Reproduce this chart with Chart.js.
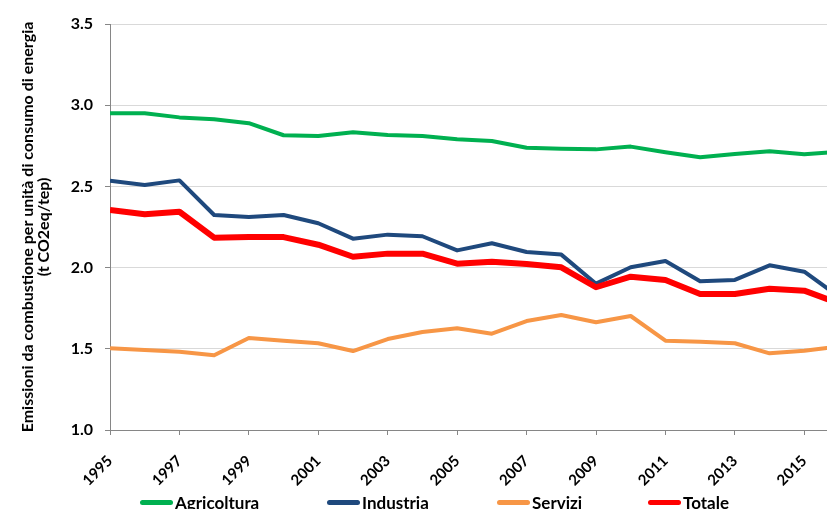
<!DOCTYPE html>
<html>
<head>
<meta charset="utf-8">
<script src="https://cdn.jsdelivr.net/npm/chart.js@4/dist/chart.umd.min.js"></script>
<style>
  html, body { margin: 0; padding: 0; background: #fff; overflow: hidden; width: 827px; height: 509px; }
  #wrap { position: absolute; left: 0; top: 0; width: 845px; height: 520px; }
  #legend { position: absolute; left: 0; top: 490px; width: 827px; height: 30px; font: bold 17px Lato, sans-serif; color: #000; z-index: 2; }
  .item { position: absolute; top: 0; display: flex; align-items: center; height: 24px; white-space: nowrap; }
  .swatch { width: 33px; height: 5px; border-radius: 3px; margin-right: 2px; }
</style>
</head>
<body>
<div id="wrap"><canvas id="myChart"></canvas></div>
<div id="legend"></div>
<script>
// data
var years = [1995, 1996, 1997, 1998, 1999, 2000, 2001, 2002, 2003, 2004, 2005,
             2006, 2007, 2008, 2009, 2010, 2011, 2012, 2013, 2014, 2015, 2016];
var agricoltura = [2.95, 2.95, 2.925, 2.913, 2.889, 2.815, 2.81, 2.833, 2.817, 2.81, 2.79,
                   2.78, 2.738, 2.732, 2.728, 2.745, 2.71, 2.679, 2.70, 2.716, 2.698, 2.713];
var industria = [2.535, 2.509, 2.537, 2.324, 2.312, 2.324, 2.273, 2.178, 2.203, 2.193, 2.106,
                 2.15, 2.096, 2.08, 1.901, 2.002, 2.041, 1.916, 1.924, 2.014, 1.975, 1.82];
var servizi = [1.503, 1.493, 1.482, 1.46, 1.567, 1.55, 1.534, 1.486, 1.56, 1.603, 1.626,
               1.593, 1.671, 1.708, 1.663, 1.702, 1.55, 1.544, 1.534, 1.472, 1.488, 1.515];
var totale = [2.355, 2.328, 2.344, 2.184, 2.188, 2.188, 2.141, 2.067, 2.086, 2.086, 2.024,
              2.036, 2.022, 2.002, 1.879, 1.944, 1.924, 1.837, 1.837, 1.87, 1.858, 1.78];
var xTickYears = [1995, 1997, 1999, 2001, 2003, 2005, 2007, 2009, 2011, 2013, 2015];
var yTitle = ['Emissioni da combustione per unità di consumo di energia', '(t CO2eq/tep)'];

var seriesNames = ['Agricoltura', 'Industria', 'Servizi', 'Totale'];
var seriesValues = [agricoltura, industria, servizi, totale];
var seriesColors = ['#00B050', '#1F497D', '#F79646', '#FF0000'];
var seriesWidths = [4, 4, 4, 6];
var seriesOrder = [3, 2, 1, 0];
var legendLeft = [140, 327, 497, 648];

function toPoints(vals) {
    return vals.map(function(v, i) { return { x: years[i], y: v }; });
}

var datasets = seriesNames.map(function(name, i) {
    return {
        label: name,
        data: toPoints(seriesValues[i]),
        borderColor: seriesColors[i],
        backgroundColor: seriesColors[i],
        borderWidth: seriesWidths[i],
        pointRadius: 0,
        tension: 0,
        borderJoinStyle: 'round',
        order: seriesOrder[i]
    };
});

var axisGray = '#868686';

var ctx = document.getElementById('myChart').getContext('2d');
var myChart = new Chart(ctx, {
    type: 'line',
    data: { datasets: datasets },
    options: {
        responsive: true,
        maintainAspectRatio: false,
        animation: false,
        layout: { padding: { top: 24, right: 6, left: 0, bottom: 0 } },
        plugins: {
            legend: { display: false },
            tooltip: { enabled: false }
        },
        scales: {
            x: {
                type: 'linear',
                min: 1995,
                max: 2016,
                afterBuildTicks: function(scale) {
                    scale.ticks = xTickYears.map(function(v) { return { value: v }; });
                },
                // canvas is 520 high, plot area has to end at y=430
                afterFit: function(scale) { scale.height = 90; },
                border: { color: axisGray, width: 1 },
                grid: { drawOnChartArea: false, drawTicks: true, tickLength: 5, tickColor: axisGray },
                ticks: {
                    autoSkip: false,
                    maxRotation: 45,
                    minRotation: 45,
                    padding: 17,
                    color: '#000',
                    font: { family: 'Lato', size: 15, weight: 'bold' },
                    callback: function(v) { return String(v); }
                }
            },
            y: {
                min: 1.0,
                max: 3.5,
                afterFit: function(scale) { scale.width = 110; },
                border: { color: axisGray, width: 1 },
                grid: {
                    color: function(c) { return c.tick && c.tick.value === 1 ? 'rgba(0,0,0,0)' : '#D9D9D9'; },
                    borderDash: [4, 4],
                    tickBorderDash: [],
                    tickColor: axisGray,
                    tickLength: 5,
                    lineWidth: 1
                },
                ticks: {
                    stepSize: 0.5,
                    padding: 12,
                    color: '#000',
                    font: { family: 'Lato', size: 16, weight: 'bold' },
                    callback: function(v) { return v.toFixed(1); }
                },
                title: {
                    display: true,
                    text: yTitle,
                    color: '#000',
                    padding: { top: 20, bottom: 0 },
                    font: { family: 'Lato', size: 16, weight: 'bold', lineHeight: 1.0 }
                }
            }
        }
    }
});

// legend laid out under the plot, same colours as the datasets
var legend = document.getElementById('legend');
seriesNames.forEach(function(name, i) {
    var item = document.createElement('div');
    item.className = 'item';
    item.style.left = legendLeft[i] + 'px';
    var sw = document.createElement('span');
    sw.className = 'swatch';
    sw.style.background = seriesColors[i];
    var txt = document.createElement('span');
    txt.textContent = name;
    item.appendChild(sw);
    item.appendChild(txt);
    legend.appendChild(item);
});
</script>
</body>
</html>
